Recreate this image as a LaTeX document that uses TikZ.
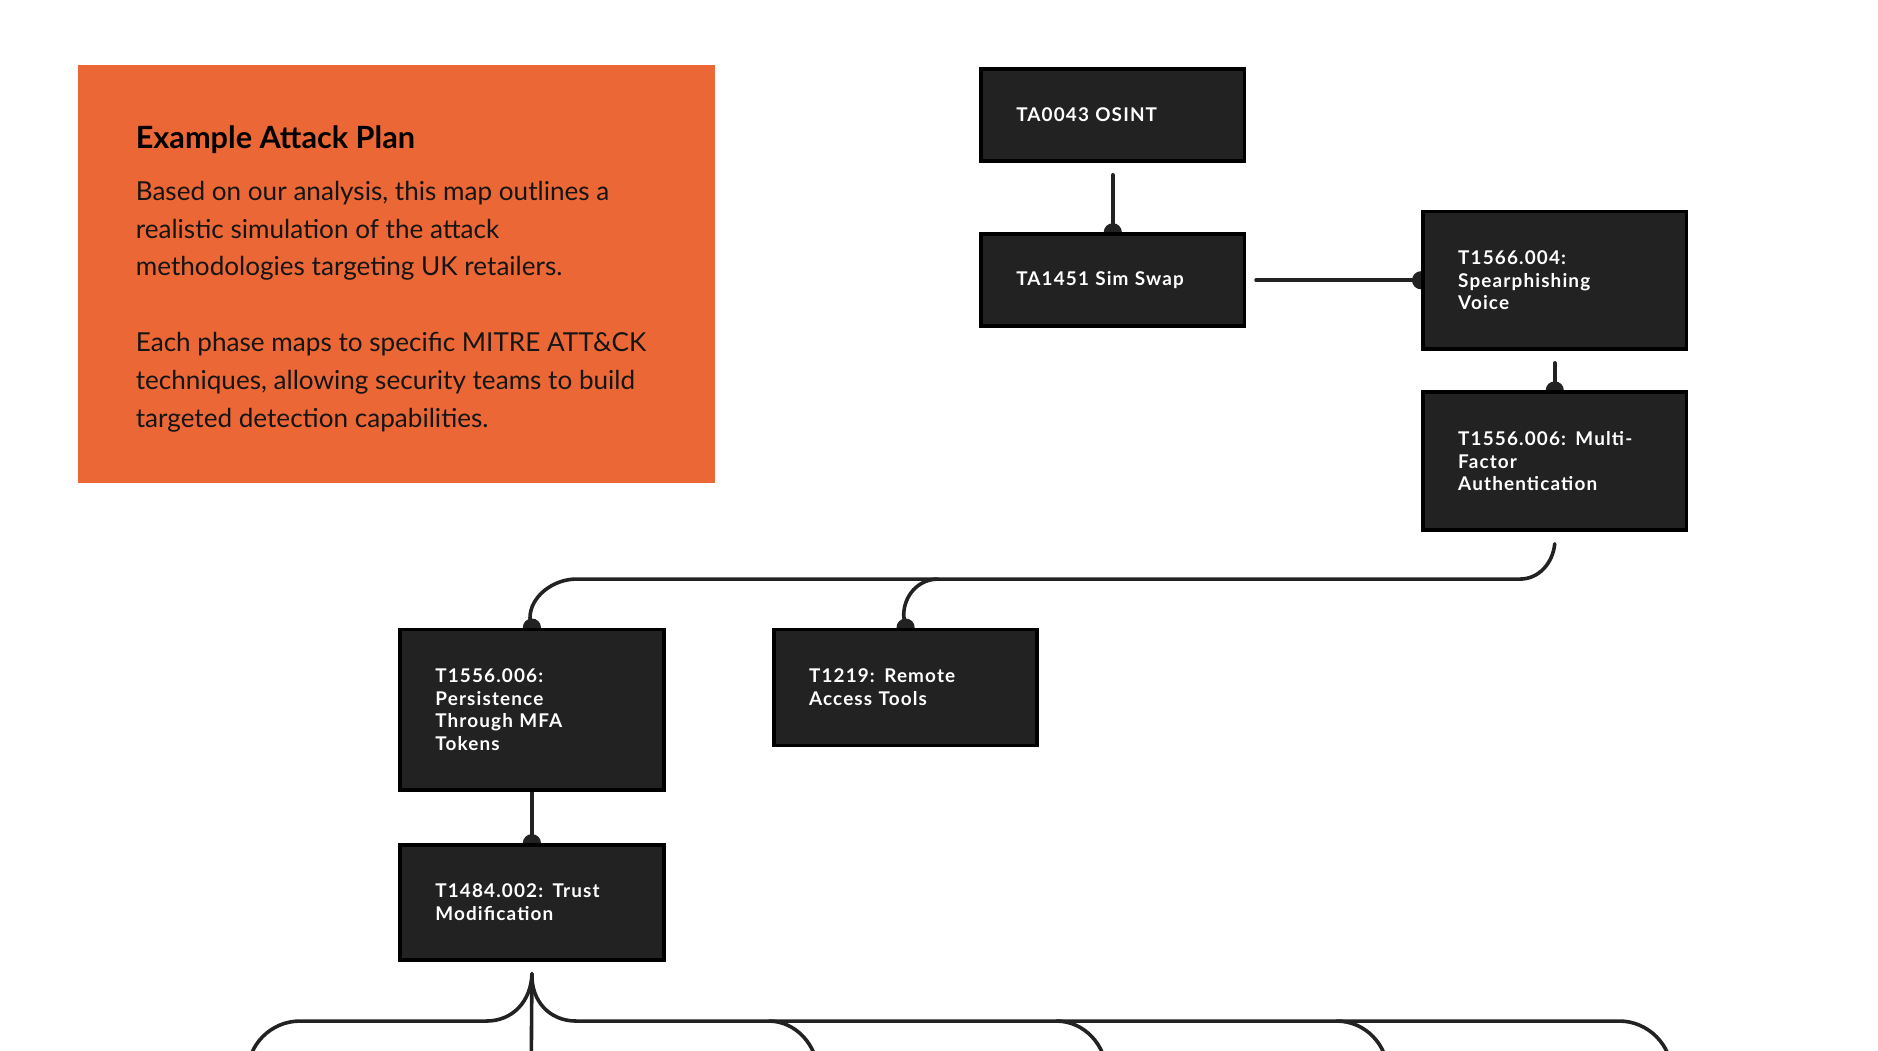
\documentclass[tikz,border=0pt]{standalone}
\usepackage{fontspec}
\setmainfont{Lato}
\newfontfamily\nodefont[LetterSpace=6]{Lato}
\definecolor{orangebg}{HTML}{EC6736}
\definecolor{boxfill}{HTML}{222222}
\definecolor{linec}{HTML}{222222}
\definecolor{bodytext}{HTML}{151515}
\pgfdeclarelayer{bg}
\pgfdeclarelayer{paper}
\pgfsetlayers{paper,bg,main}
\begin{document}
\begin{tikzpicture}[x=0.5pt,y=-0.5pt,
  stepbox/.style={draw=black, line width=1.6pt, fill=boxfill, text=white,
    font=\nodefont\bfseries\fontsize{7.9}{9.5}\selectfont, align=left,
    anchor=north west, inner xsep=14.7pt, inner ysep=0pt, text width=80.6pt,
    minimum width=110pt},
  conn/.style={draw=linec, line width=1.5pt, line cap=round},
  dotc/.style={fill=linec}]
\useasboundingbox (0,0) rectangle (1568,877);
\clip (0,0) rectangle (1568,877);
\begin{pgfonlayer}{paper}
\fill[white] (0,0) rectangle (1568,877);
\end{pgfonlayer}

% info panel
\fill[orangebg] (65,54) rectangle (597,403);
\node[anchor=base west, inner sep=0pt, font=\bfseries\fontsize{12.8}{15}\selectfont, text=black] (title) at (113,123.6) {Example Attack Plan};
\node[anchor=base west, inner sep=0pt, align=left, text=bodytext, font=\fontsize{10.9}{15.8}\selectfont] (body) at (113,356.8)
 {Based on our analysis, this map outlines a\\ realistic simulation of the attack\\ methodologies targeting UK retailers.\\[15.8pt] Each phase maps to specific MITRE ATT\&CK\\ techniques, allowing security teams to build\\ targeted detection capabilities.};

% boxes
\node[stepbox, minimum height=38.4pt] (osint) at (817.5,56) {TA0043 OSINT};
\node[stepbox, minimum height=38.4pt] (sim) at (817.5,194) {TA1451 Sim Swap};
\node[stepbox, minimum height=57.4pt] (spear) at (1186.5,175) {T1566.004:\\ Spearphishing\\ Voice};
\node[stepbox, minimum height=57.4pt] (mfa) at (1186.5,326) {T1556.006: Multi-\\ Factor\\ Authentication};
\node[stepbox, minimum height=66.9pt] (pers) at (332.5,524) {T1556.006:\\ Persistence\\ Through MFA\\ Tokens};
\node[stepbox, minimum height=48.4pt] (rem) at (644.5,524) {T1219: Remote\\ Access Tools};
\node[stepbox, minimum height=47.9pt] (trust) at (332.5,704) {T1484.002: Trust\\ Modification};

\begin{pgfonlayer}{bg}
% OSINT -> Sim Swap
\draw[conn] ([yshift=-5pt]osint.south) -- (sim.north);
\fill[dotc] (sim.north) circle (3.8pt);
% Sim Swap -> Spearphishing
\draw[conn] ([xshift=4pt]sim.east) -- (spear.west);
\fill[dotc] (spear.west) circle (3.8pt);
% Spearphishing -> MFA
\draw[conn] ([yshift=-5pt]spear.south) -- (mfa.north);
\fill[dotc] (mfa.north) circle (3.8pt);
% MFA -> Remote / Persistence
\coordinate (mfaout) at ([yshift=-5pt]mfa.south);
\draw[conn] (mfaout) .. controls (1296.5,470) and (1285,483.5) .. (1269,483.5) -- (783,483.5)
  .. controls (767,483.5) and (754.5,497) .. (754.5,514) -- (rem.north);
\draw[conn] (783,483.5) -- (481,483.5) .. controls (462,483.5) and (442.5,498) .. (442.5,516) -- (pers.north);
\fill[dotc] (rem.north) circle (3.8pt);
\fill[dotc] (pers.north) circle (3.8pt);
% Persistence -> Trust
\draw[conn] (pers.south) -- (trust.north);
\fill[dotc] (trust.north) circle (3.8pt);
% Trust -> next level
\coordinate (trustout) at ([yshift=-5pt]trust.south);
\draw[conn] (trustout) -- (443.5,900);
\draw[conn] (trustout) .. controls (443.5,836) and (428,852.5) .. (406,852.5) -- (250.5,852.5)
  .. controls (226,852.5) and (206.5,872.5) .. (206.5,897);
\draw[conn] (trustout) .. controls (443.5,836) and (459,852.5) .. (481,852.5) -- (1352,852.5)
  .. controls (1376,852.5) and (1396,872.5) .. (1396,897);
\draw[conn] (642,852.5) .. controls (664,852.5) and (683,872.5) .. (683,897);
\draw[conn] (882,852.5) .. controls (905,852.5) and (924,872.5) .. (924,897);
\draw[conn] (1116,852.5) .. controls (1140,852.5) and (1159,872.5) .. (1159,897);
\end{pgfonlayer}
\end{tikzpicture}
\end{document}
